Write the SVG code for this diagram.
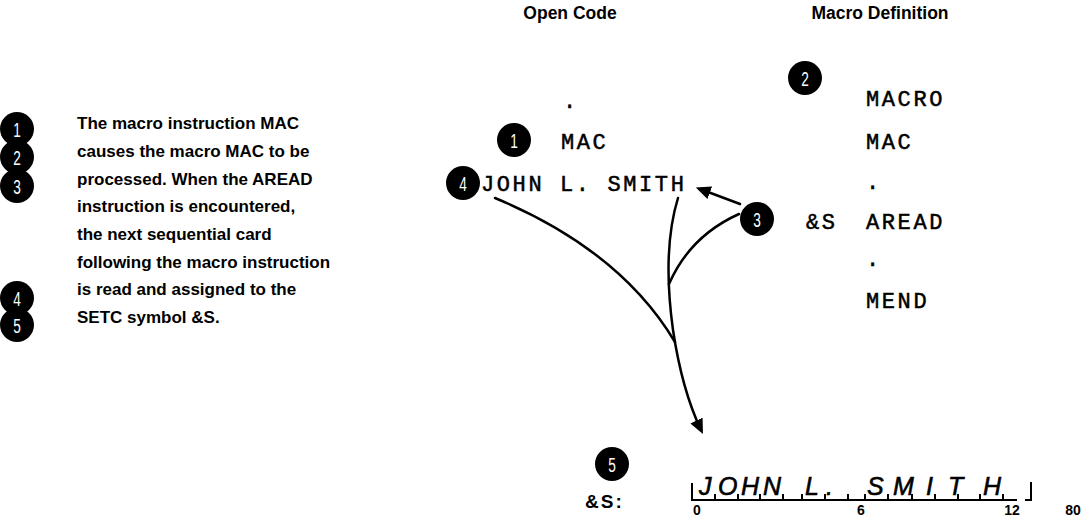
<svg xmlns="http://www.w3.org/2000/svg" width="1084" height="516" viewBox="0 0 1084 516">
  <style>
    .hdr { font-family: "Liberation Sans", Arial, sans-serif; font-weight: bold; font-size: 17.5px; fill: #000; }
    .note { font-family: "Liberation Sans", Arial, sans-serif; font-weight: bold; font-size: 17px; fill: #000; }
    .code { font-family: "Liberation Mono", "Courier New", monospace; font-size: 22px; letter-spacing: 2.6px; fill: #000; stroke: #000; stroke-width: 0.5; }
    .num { font-family: "Liberation Sans", Arial, sans-serif; font-size: 21px; fill: #fff; text-anchor: middle; }
    .card { font-family: "Liberation Sans", Arial, sans-serif; font-style: italic; font-size: 25px; fill: #000; stroke: #000; stroke-width: 0.6; }
    .scale { font-family: "Liberation Sans", Arial, sans-serif; font-weight: bold; font-size: 14px; fill: #000; text-anchor: middle; }
    .wire { fill: none; stroke: #000; stroke-width: 2.5; stroke-linecap: round; }
    .rule { fill: none; stroke: #000; stroke-width: 2; stroke-linecap: square; }
  </style>
  <defs>
    <marker id="head" viewBox="0 0 10 10" refX="7" refY="5" markerWidth="6" markerHeight="6" orient="auto" markerUnits="strokeWidth">
      <path d="M0,0.5 L10,5 L0,9.5 Z" fill="#000"/>
    </marker>
    <!-- numbered black disc; digits are drawn on top in condensed white -->
    <circle id="disc" r="17" fill="#000"/>
  </defs>

  <rect width="1084" height="516" fill="#fff"/>

  <!-- explanation column -->
  <g id="legend">
    <use href="#disc" x="17" y="129"/><text class="num" transform="translate(17,137) scale(0.65,1)">1</text>
    <use href="#disc" x="17" y="157"/><text class="num" transform="translate(17,165) scale(0.65,1)">2</text>
    <use href="#disc" x="17" y="186"/><text class="num" transform="translate(17,194) scale(0.65,1)">3</text>
    <use href="#disc" x="17" y="298"/><text class="num" transform="translate(17,306) scale(0.65,1)">4</text>
    <use href="#disc" x="17" y="325"/><text class="num" transform="translate(17,333) scale(0.65,1)">5</text>
    <text class="note" x="77" y="129">The macro instruction MAC</text>
    <text class="note" x="77" y="157">causes the macro MAC to be</text>
    <text class="note" x="77" y="185">processed.  When the AREAD</text>
    <text class="note" x="77" y="212">instruction is encountered,</text>
    <text class="note" x="77" y="240">the next sequential card</text>
    <text class="note" x="77" y="268">following the macro instruction</text>
    <text class="note" x="77" y="295">is read and assigned to the</text>
    <text class="note" x="77" y="323">SETC symbol &amp;S.</text>
  </g>

  <!-- open code column -->
  <g id="open-code">
    <text class="hdr" x="570" y="19" text-anchor="middle">Open Code</text>
    <text class="code" x="563" y="108">.</text>
    <use href="#disc" x="514" y="140"/><text class="num" transform="translate(514,148) scale(0.65,1)">1</text>
    <text class="code" x="561" y="149">MAC</text>
    <use href="#disc" x="463" y="183"/><text class="num" transform="translate(463,191) scale(0.65,1)">4</text>
    <text class="code" x="481" y="191">JOHN L. SMITH</text>
  </g>

  <!-- macro definition column -->
  <g id="macro-definition">
    <text class="hdr" x="880" y="19" text-anchor="middle">Macro Definition</text>
    <use href="#disc" x="805" y="78"/><text class="num" transform="translate(805,86) scale(0.65,1)">2</text>
    <text class="code" x="866" y="106">MACRO</text>
    <text class="code" x="866" y="149">MAC</text>
    <text class="code" x="866" y="189">.</text>
    <use href="#disc" x="757" y="219"/><text class="num" transform="translate(757,227) scale(0.65,1)">3</text>
    <text class="code" x="806" y="229">&amp;S</text>
    <text class="code" x="866" y="229">AREAD</text>
    <text class="code" x="866" y="266">.</text>
    <text class="code" x="866" y="308">MEND</text>
  </g>

  <!-- flow lines -->
  <g id="connectors">
    <path class="wire" d="M740,204 L700,189" marker-end="url(#head)"/>
    <path class="wire" d="M739,214 Q690,236 669,284"/>
    <path class="wire" d="M495,198 Q620,250 675,342"/>
    <path class="wire" d="M678,198 Q662,250 673,330 Q682,390 701,430" marker-end="url(#head)"/>
  </g>

  <!-- SETC symbol value as a card field -->
  <g id="result">
    <use href="#disc" x="612" y="464"/><text class="num" transform="translate(612,472) scale(0.65,1)">5</text>
    <text class="hdr" style="font-size:19px; letter-spacing:2px" x="585" y="508">&amp;S:</text>
    <path class="rule" d="M692,484 V500 H1016 M715,500 v-5 M738,500 v-5 M760,500 v-5 M783,500 v-5 M802,500 v-5 M825,500 v-5 M848,500 v-5 M865,500 v-5 M888,500 v-5 M912,500 v-5 M935,500 v-5 M958,500 v-5 M980,500 v-5 M1003,500 v-5 M1031,483 V500 H1026"/>
    <text class="card" y="495"><tspan x="699">J</tspan><tspan x="718">O</tspan><tspan x="741">H</tspan><tspan x="763">N</tspan><tspan x="805">L</tspan><tspan x="826">.</tspan><tspan x="867">S</tspan><tspan x="893">M</tspan><tspan x="926">I</tspan><tspan x="948">T</tspan><tspan x="983">H</tspan></text>
    <text class="scale" x="697" y="515">0</text>
    <text class="scale" x="861" y="515">6</text>
    <text class="scale" x="1012" y="515">12</text>
    <text class="scale" x="1073" y="515">80</text>
  </g>
</svg>
